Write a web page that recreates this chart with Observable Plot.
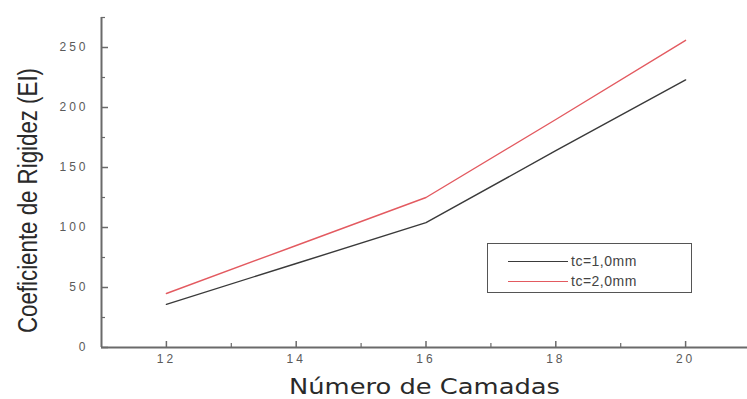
<!DOCTYPE html>
<html>
<head>
<meta charset="utf-8">
<script src="https://cdn.jsdelivr.net/npm/d3@7"></script>
<script src="https://cdn.jsdelivr.net/npm/@observablehq/plot@0.6"></script>
<style>
  html, body { margin: 0; padding: 0; background: #fff; }
  #wrap { position: relative; width: 747px; height: 399px; overflow: hidden; }
  g[aria-label="y-axis tick label"] text,
  g[aria-label="x-axis tick label"] text { letter-spacing: 3px; }
  .legend {
    position: absolute; left: 487px; top: 243px; width: 203px; height: 48px;
    border: 1.5px solid #555; background: #fff; box-sizing: content-box;
    font-family: "Liberation Sans", Arial, sans-serif; font-size: 14px; color: #444;
    letter-spacing: 0.5px;
  }
  .legend .row { position: absolute; left: 20px; height: 16px; display: flex; align-items: center; }
  .legend .swatch { width: 60px; height: 0; border-top: 1.4px solid; margin-right: 3px; }
</style>
</head>
<body>
<div id="wrap"></div>
<script>
// Number of plies and stiffness coefficient for two core thicknesses
const camadas = [12, 14, 16, 18, 20];
const ei_tc1 = [36, 70, 104, 164, 223];
const ei_tc2 = [45, 85, 125, 190, 256];
const series = [
  {name: "tc=1,0mm", values: ei_tc1, color: "#3a3a3a"},
  {name: "tc=2,0mm", values: ei_tc2, color: "#e35a60"}
];
const xMajor = [12, 14, 16, 18, 20];
const xMinor = [13, 15, 17, 19, 21];
const yMajor = [0, 50, 100, 150, 200, 250];
const yMinor = [25, 75, 125, 175, 225, 275];
const xTitle = "Número de Camadas";
const yTitle = "Coeficiente de Rigidez (EI)";

const rows = series.flatMap(s => camadas.map((c, i) => ({camadas: c, ei: s.values[i], serie: s.name})));

const axisColor = "#6a6a6a";

const chart = Plot.plot({
  width: 747,
  height: 399,
  marginLeft: 101,
  marginRight: 0,
  marginTop: 17,
  marginBottom: 52,
  style: {background: "#fff", fontFamily: "'Liberation Sans', Arial, sans-serif"},
  x: {domain: [11, 21], range: [101, 750]},
  y: {domain: [0, 275], range: [347, 17]},
  color: {domain: series.map(s => s.name), range: series.map(s => s.color)},
  marks: [
    Plot.line(rows, {x: "camadas", y: "ei", z: "serie", stroke: "serie", strokeWidth: 1.4}),
    Plot.ruleY([0], {stroke: axisColor, strokeWidth: 2}),
    Plot.ruleX([11], {stroke: axisColor, strokeWidth: 2}),
    Plot.axisX(xMajor, {tickSize: -6, tickPadding: 13, stroke: axisColor, strokeWidth: 1.5, fill: "#5a5a5a", fontSize: 12, label: null}),
    Plot.axisX(xMinor, {tickSize: -4, tickFormat: () => "", stroke: axisColor, strokeWidth: 1.2, label: null}),
    Plot.axisY(yMajor, {tickSize: -7, tickPadding: 20, stroke: axisColor, strokeWidth: 1.5, fill: "#5a5a5a", fontSize: 12, label: null}),
    Plot.axisY(yMinor, {tickSize: -4, tickFormat: () => "", stroke: axisColor, strokeWidth: 1.2, label: null}),
    Plot.text([xTitle], {frameAnchor: "bottom", lineAnchor: "middle", dy: 40, fontSize: 21, fill: "#2a2a2a",
      fontFamily: "'DejaVu Sans', sans-serif"}),
    Plot.text([yTitle], {frameAnchor: "left", textAnchor: "middle", lineAnchor: "middle", rotate: -90, dx: -73, dy: 18,
      fontSize: 27, fill: "#2a2a2a", fontFamily: "'Liberation Sans', Arial, sans-serif"})
  ]
});

// Stretch or condense the axis titles to their printed widths
const titleText = s => d3.select(chart).selectAll("text").filter(function() { return this.textContent === s; });
titleText(xTitle).attr("textLength", 271).attr("lengthAdjust", "spacingAndGlyphs");
titleText(yTitle).attr("textLength", 265).attr("lengthAdjust", "spacingAndGlyphs");

const wrap = document.getElementById("wrap");
wrap.appendChild(chart);

// Boxed legend in the lower right of the plotting area
const legend = document.createElement("div");
legend.className = "legend";
series.forEach((s, i) => {
  const row = document.createElement("div");
  row.className = "row";
  row.style.top = (9 + i * 20) + "px";
  const sw = document.createElement("span");
  sw.className = "swatch";
  sw.style.borderColor = s.color;
  const lab = document.createElement("span");
  lab.textContent = s.name;
  row.appendChild(sw);
  row.appendChild(lab);
  legend.appendChild(row);
});
wrap.appendChild(legend);
</script>
</body>
</html>
